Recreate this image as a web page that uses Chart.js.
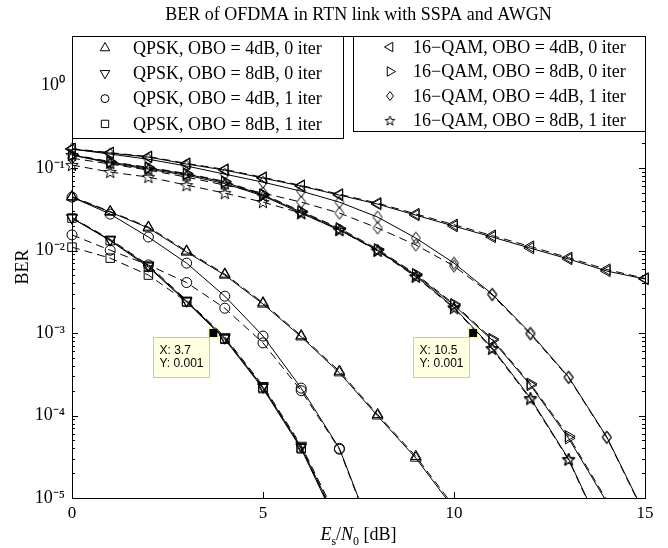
<!DOCTYPE html>
<html><head><meta charset="utf-8">
<script src="https://cdn.jsdelivr.net/npm/chart.js@4.4.1/dist/chart.umd.min.js"></script>
<style>html,body{margin:0;padding:0;background:#fff;}canvas{display:block;}</style>
</head><body>
<canvas id="c" width="668" height="548"></canvas>
<script>
// ---------------- data ----------------
const snr = [0,1,2,3,4,5,6,7,8,9,10,11,12,13,14,15];

const qpsk_obo4_it0_solid  = [0.0445, 0.0293, 0.0188, 0.0096, 0.00505, 0.00225, 0.00090, 0.00033, 9.9e-5, 3.05e-5, 7.4e-6];
const qpsk_obo4_it0_dashed = [0.0452, 0.0298, 0.0193, 0.0099, 0.00520, 0.00233, 0.00093, 0.000345, 1.03e-4, 3.2e-5, 7.9e-6];
const qpsk_obo8_it0_solid  = [0.0248, 0.0134, 0.0065, 0.00244, 0.00087, 0.000221, 4.15e-5, 4.6e-6];
const qpsk_obo8_it0_dashed = [0.0252, 0.0137, 0.0067, 0.00250, 0.00090, 0.000230, 4.35e-5, 5.0e-6];
const qpsk_obo4_it1_solid  = [0.0445, 0.0277, 0.0146, 0.00705, 0.0028, 0.00092, 0.000215, 4.0e-5, 2.5e-6];
const qpsk_obo4_it1_dashed = [0.0155, 0.0101, 0.0067, 0.0041, 0.0020, 0.00076, 0.00020, 3.9e-5, 2.4e-6];
const qpsk_obo8_it1_solid  = [0.0248, 0.0132, 0.0063, 0.00238, 0.00084, 0.000212, 3.95e-5, 4.2e-6];
const qpsk_obo8_it1_dashed = [0.0110, 0.0081, 0.00505, 0.00240, 0.00086, 0.000218, 4.05e-5, 4.4e-6];

const qam_obo4_it0_solid  = [0.170, 0.152, 0.136, 0.112, 0.0946, 0.0757, 0.0605, 0.0471, 0.0366, 0.0269, 0.0198, 0.0146, 0.0107, 0.0079, 0.00565, 0.00452];
const qam_obo4_it0_dashed = [0.172, 0.154, 0.138, 0.114, 0.0965, 0.0772, 0.0617, 0.0482, 0.0376, 0.0278, 0.0206, 0.0152, 0.0112, 0.0082, 0.0059, 0.0046];
const qam_obo8_it0_solid  = [0.144, 0.118, 0.100, 0.0845, 0.0676, 0.0471, 0.0293, 0.0182, 0.0101, 0.00505, 0.00218, 0.00082, 0.000234, 5.3e-5, 8.9e-6];
const qam_obo8_it0_dashed = [0.146, 0.120, 0.102, 0.086, 0.0690, 0.0482, 0.0300, 0.0187, 0.0104, 0.0052, 0.00225, 0.00085, 0.000243, 5.6e-5, 9.4e-6];
const qam_obo4_it1_solid  = [0.170, 0.148, 0.128, 0.106, 0.0845, 0.0676, 0.0526, 0.0387, 0.0255, 0.0142, 0.00705, 0.00297, 0.00100, 0.000293, 5.5e-5, 6.3e-6];
const qam_obo4_it1_dashed = [0.132, 0.112, 0.0946, 0.0778, 0.0622, 0.0498, 0.0387, 0.0285, 0.0188, 0.0117, 0.0065, 0.0029, 0.00097, 0.000288, 5.4e-5, 6.1e-6];
const qam_obo8_it1_solid  = [0.144, 0.115, 0.097, 0.082, 0.065, 0.046, 0.0284, 0.0177, 0.0101, 0.0049, 0.00205, 0.00066, 0.000163, 2.97e-5, 3.0e-6];
const qam_obo8_it1_dashed = [0.109, 0.0896, 0.0778, 0.0622, 0.0498, 0.0387, 0.0285, 0.0178, 0.0099, 0.0048, 0.00200, 0.00064, 0.000158, 2.9e-5, 2.9e-6];

const legendLabels = [
  'QPSK, OBO = 4dB, 0 iter', 'QPSK, OBO = 8dB, 0 iter', 'QPSK, OBO = 4dB, 1 iter', 'QPSK, OBO = 8dB, 1 iter',
  '16\u2212QAM, OBO = 4dB, 0 iter', '16\u2212QAM, OBO = 8dB, 0 iter', '16\u2212QAM, OBO = 4dB, 1 iter', '16\u2212QAM, OBO = 8dB, 1 iter'
];

const datatipX = [3.7, 10.5];
const datatipY = [0.001, 0.001];

const xTickValues = [0, 5, 10, 15];
const yDecades = [1e-5, 1e-4, 1e-3, 1e-2, 1e-1, 1e0];
const yMinorMantissas = [2, 3, 4, 5, 6, 7, 8, 9];

const titleText = 'BER of OFDMA in RTN link with SSPA and AWGN';
const yTitleText = 'BER';

// ---------------- marker helpers ----------------
const SERIF = '"Liberation Serif", "Times New Roman", serif';
const SANS = '"Liberation Sans", Arial, sans-serif';

function makeStar(R, r) {
  const s = Math.ceil(2 * R + 3);
  const c = document.createElement('canvas'); c.width = s; c.height = s;
  const g = c.getContext('2d');
  g.translate(s / 2, s / 2 + 0.5);
  g.beginPath();
  for (let i = 0; i < 10; i++) {
    const a = -Math.PI / 2 + i * Math.PI / 5;
    const rr = i % 2 ? r : R;
    g.lineTo(rr * Math.cos(a), rr * Math.sin(a));
  }
  g.closePath(); g.strokeStyle = '#000'; g.lineWidth = 1; g.stroke();
  return c;
}
function makeDiamond(hw, hh) {
  const w = Math.ceil(2 * hw + 3), h = Math.ceil(2 * hh + 3);
  const c = document.createElement('canvas'); c.width = w; c.height = h;
  const g = c.getContext('2d');
  g.translate(w / 2, h / 2);
  g.beginPath(); g.moveTo(0, -hh); g.lineTo(hw, 0); g.lineTo(0, hh); g.lineTo(-hw, 0); g.closePath();
  g.strokeStyle = '#000'; g.lineWidth = 1; g.stroke();
  return c;
}

const plotMarkers = {
  up:      {pointStyle: 'triangle', rotation: 0,   radius: 6.2},
  down:    {pointStyle: 'triangle', rotation: 180, radius: 6.2},
  circle:  {pointStyle: 'circle',   rotation: 0,   radius: 5},
  square:  {pointStyle: 'rect',     rotation: 0,   radius: 6},
  left:    {pointStyle: 'triangle', rotation: 270, radius: 6.5},
  right:   {pointStyle: 'triangle', rotation: 90,  radius: 6.5},
  diamond: {pointStyle: makeDiamond(4.5, 6), rotation: 0, radius: 5},
  star:    {pointStyle: makeStar(6.5, 2.7), rotation: 0, radius: 5}
};
const legendMarkers = {
  up:      {pointStyle: 'triangle', rotation: 0,   radius: 5.5},
  down:    {pointStyle: 'triangle', rotation: 180, radius: 5.5},
  circle:  {pointStyle: 'circle',   rotation: 0,   radius: 4},
  square:  {pointStyle: 'rect',     rotation: 0,   radius: 5.2},
  left:    {pointStyle: 'triangle', rotation: 270, radius: 5.5},
  right:   {pointStyle: 'triangle', rotation: 90,  radius: 5.5},
  diamond: {pointStyle: makeDiamond(3.5, 4.5), rotation: 0, radius: 4},
  star:    {pointStyle: makeStar(5, 2.1), rotation: 0, radius: 4}
};

function drawMarker(ctx, m, x, y) {
  const st = m.pointStyle, r = m.radius;
  ctx.save();
  ctx.translate(x, y);
  if (typeof st !== 'string') {
    ctx.drawImage(st, -st.width / 2, -st.height / 2);
    ctx.restore(); return;
  }
  ctx.strokeStyle = '#000'; ctx.lineWidth = 1;
  ctx.beginPath();
  if (st === 'circle') {
    ctx.arc(0, 0, r, 0, Math.PI * 2);
  } else if (st === 'rect') {
    const s = r * Math.SQRT1_2;
    ctx.rect(-s, -s, 2 * s, 2 * s);
  } else if (st === 'triangle') {
    let a = m.rotation * Math.PI / 180;
    ctx.moveTo(Math.sin(a) * r, -Math.cos(a) * r);
    a += 2 * Math.PI / 3; ctx.lineTo(Math.sin(a) * r, -Math.cos(a) * r);
    a += 2 * Math.PI / 3; ctx.lineTo(Math.sin(a) * r, -Math.cos(a) * r);
    ctx.closePath();
  }
  ctx.stroke();
  ctx.restore();
}

// ---------------- series list ----------------
const seriesList = [
  {label: legendLabels[0], marker: 'up',      solid: qpsk_obo4_it0_solid, dashed: qpsk_obo4_it0_dashed},
  {label: legendLabels[1], marker: 'down',    solid: qpsk_obo8_it0_solid, dashed: qpsk_obo8_it0_dashed},
  {label: legendLabels[2], marker: 'circle',  solid: qpsk_obo4_it1_solid, dashed: qpsk_obo4_it1_dashed},
  {label: legendLabels[3], marker: 'square',  solid: qpsk_obo8_it1_solid, dashed: qpsk_obo8_it1_dashed},
  {label: legendLabels[4], marker: 'left',    solid: qam_obo4_it0_solid,  dashed: qam_obo4_it0_dashed},
  {label: legendLabels[5], marker: 'right',   solid: qam_obo8_it0_solid,  dashed: qam_obo8_it0_dashed},
  {label: legendLabels[6], marker: 'diamond', solid: qam_obo4_it1_solid,  dashed: qam_obo4_it1_dashed},
  {label: legendLabels[7], marker: 'star',    solid: qam_obo8_it1_solid,  dashed: qam_obo8_it1_dashed}
];

function toPoints(values) { return values.map((v, i) => ({x: snr[i], y: v})); }
const Y_MIN = 1e-5, Y_MAX = 4;

const datasets = [];
seriesList.forEach(s => {
  const m = plotMarkers[s.marker];
  [['solid', []], ['dashed', [8, 5]]].forEach(([kind, dash]) => {
    datasets.push({
      label: s.label + (kind === 'dashed' ? ' (dashed)' : ''),
      data: toPoints(s[kind]),
      showLine: true,
      borderColor: '#000',
      borderWidth: 1,
      borderDash: dash,
      tension: 0,
      pointStyle: m.pointStyle,
      pointRotation: m.rotation,
      pointRadius: ctx => (ctx.raw && ctx.raw.y < Y_MIN ? 0 : m.radius),
      pointBackgroundColor: 'rgba(0,0,0,0)',
      pointBorderColor: '#000',
      pointBorderWidth: 1,
      clip: {left: 12, right: 12, top: 0, bottom: 0}
    });
  });
});
datasets.push({
  label: 'datatips',
  data: datatipX.map((x, i) => ({x, y: datatipY[i]})),
  showLine: false,
  pointStyle: 'rect',
  pointRadius: 7,
  pointBackgroundColor: '#000',
  pointBorderColor: '#fbfbc0',
  pointBorderWidth: 2,
  clip: false
});

// ---------------- plugins ----------------
const axesFrame = {
  id: 'axesFrame',
  afterDatasetsDraw(chart) {
    const {ctx, chartArea: a, scales: {x, y}} = chart;
    ctx.save();
    ctx.strokeStyle = '#000'; ctx.lineWidth = 1;
    ctx.beginPath();
    y.ticks.forEach(t => {
      const py = Math.round(y.getPixelForValue(t.value)) + 0.5;
      const len = t.major ? 6 : 3;
      ctx.moveTo(a.left, py); ctx.lineTo(a.left + len, py);
      ctx.moveTo(a.right, py); ctx.lineTo(a.right - len, py);
    });
    x.ticks.forEach(t => {
      const px = Math.round(x.getPixelForValue(t.value)) + 0.5;
      ctx.moveTo(px, a.bottom); ctx.lineTo(px, a.bottom - 6);
      ctx.moveTo(px, a.top); ctx.lineTo(px, a.top + 6);
    });
    ctx.stroke();
    ctx.strokeRect(a.left + 0.5, a.top + 0.5, a.right - a.left, a.bottom - a.top);

    // data tips
    datatipX.forEach((tx, i) => {
      const px = x.getPixelForValue(tx), py = y.getPixelForValue(datatipY[i]);
      const bw = 56, bh = 40, bx = Math.round(px - bw - 4) + 0.5, by = Math.round(py + 4) + 0.5;
      ctx.fillStyle = '#ffffe1';
      ctx.strokeStyle = '#c8c8b4';
      ctx.fillRect(bx, by, bw, bh);
      ctx.strokeRect(bx, by, bw, bh);
      ctx.fillStyle = '#000';
      ctx.font = '12px ' + SANS;
      ctx.textAlign = 'left'; ctx.textBaseline = 'middle';
      ctx.fillText('X: ' + tx, bx + 6, py + 18);
      ctx.fillText('Y: ' + datatipY[i], bx + 6, py + 31);
    });

    // x axis title with italic & subscripts
    const parts = [
      {t: 'E', f: 'italic 18px ' + SERIF, dy: 0},
      {t: 's', f: '12px ' + SERIF, dy: 5},
      {t: '/', f: '18px ' + SERIF, dy: 0},
      {t: 'N', f: 'italic 18px ' + SERIF, dy: 0},
      {t: '0', f: '12px ' + SERIF, dy: 5},
      {t: ' [dB]', f: '18px ' + SERIF, dy: 0}
    ];
    let total = 0;
    parts.forEach(p => { ctx.font = p.f; p.w = ctx.measureText(p.t).width; total += p.w; });
    let cx = (a.left + a.right) / 2 - total / 2;
    const base = 540;
    ctx.fillStyle = '#000'; ctx.textAlign = 'left'; ctx.textBaseline = 'alphabetic';
    parts.forEach(p => { ctx.font = p.f; ctx.fillText(p.t, cx, base + p.dy); cx += p.w; });
    ctx.restore();
  },
  afterDraw(chart) {
    const {ctx, chartArea: a} = chart;
    const boxes = [
      {x: a.left, y: a.top, w: 271, h: 102, mx: 33, tx: 61, r0: 12, dr: 25.3, items: [0, 1, 2, 3]},
      {x: a.right - 292, y: a.top, w: 292, h: 95, mx: 37, tx: 60, r0: 11, dr: 24.5, items: [4, 5, 6, 7]}
    ];
    ctx.save();
    boxes.forEach(b => {
      ctx.fillStyle = '#fff';
      ctx.fillRect(b.x + 0.5, b.y + 0.5, b.w, b.h);
      ctx.strokeStyle = '#000'; ctx.lineWidth = 1;
      ctx.strokeRect(b.x + 0.5, b.y + 0.5, b.w, b.h);
      b.items.forEach((idx, k) => {
        const ry = b.y + b.r0 + k * b.dr;
        drawMarker(ctx, legendMarkers[seriesList[idx].marker], b.x + b.mx, ry);
        ctx.fillStyle = '#000';
        ctx.font = '18px ' + SERIF;
        ctx.textAlign = 'left'; ctx.textBaseline = 'middle';
        ctx.fillText(seriesList[idx].label, b.x + b.tx, ry + 1);
      });
    });
    ctx.restore();
  }
};

const SUP = {'0': '\u2070', '1': '\u00b9', '2': '\u00b2', '3': '\u00b3', '4': '\u2074', '5': '\u2075', '-': '\u207b'};
function decadeLabel(v) {
  const e = Math.log10(v);
  if (Math.abs(e - Math.round(e)) > 1e-9) return '';
  return '10' + String(Math.round(e)).split('').map(c => SUP[c]).join('');
}

new Chart(document.getElementById('c'), {
  type: 'scatter',
  data: {datasets},
  plugins: [axesFrame],
  options: {
    responsive: false,
    animation: false,
    events: [],
    layout: {padding: {left: 0, right: 23, top: 0, bottom: 0}},
    plugins: {
      legend: {display: false},
      tooltip: {enabled: false},
      title: {
        display: true, text: titleText, fullSize: false, color: '#000',
        font: {family: SERIF, size: 18, weight: 'normal'},
        padding: {top: 4, bottom: 10.4}
      }
    },
    scales: {
      x: {
        type: 'linear', min: 0, max: 15,
        afterBuildTicks: s => { s.ticks = xTickValues.map(v => ({value: v})); },
        ticks: {color: '#000', font: {family: SERIF, size: 17}, padding: 5, autoSkip: false},
        grid: {display: false, drawTicks: false},
        border: {display: false},
        afterFit: s => { s.height = 50; }
      },
      y: {
        type: 'logarithmic', min: Y_MIN, max: Y_MAX,
        afterBuildTicks: s => {
          const t = [];
          yDecades.forEach(d => {
            t.push({value: d, major: true});
            yMinorMantissas.forEach(m => { const v = m * d; if (v < Y_MAX) t.push({value: v, major: false}); });
          });
          t.sort((p, q) => p.value - q.value);
          s.ticks = t;
        },
        ticks: {color: '#000', font: {family: SERIF, size: 18}, padding: 7, autoSkip: false, callback: v => decadeLabel(v)},
        grid: {display: false, drawTicks: false},
        border: {display: false},
        title: {display: true, text: yTitleText, color: '#000', font: {family: SERIF, size: 18}, padding: {top: 12, bottom: 0}},
        afterFit: s => { s.width = 72; }
      }
    }
  }
});
</script>
</body></html>
